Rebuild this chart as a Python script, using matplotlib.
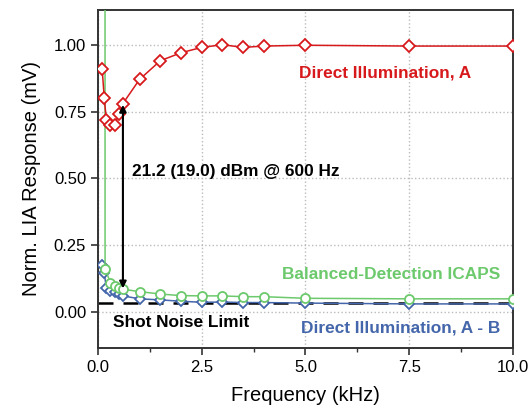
import matplotlib.pyplot as plt

plt.rcParams['font.family'] = ['Liberation Sans', 'DejaVu Sans']

# frequencies (kHz)
freq = [0.1, 0.15, 0.2, 0.3, 0.4, 0.5, 0.6, 1.0, 1.5, 2.0, 2.5, 3.0, 3.5, 4.0, 5.0, 7.5, 10.0]

direct_a = [0.91, 0.80, 0.72, 0.70, 0.70, 0.74, 0.78, 0.87, 0.94, 0.97, 0.99, 1.00,
            0.99, 0.995, 0.998, 0.995, 0.995]
direct_ab = [0.176, 0.146, 0.09, 0.079, 0.074, 0.067, 0.06, 0.049, 0.045, 0.04, 0.036,
             0.037, 0.035, 0.035, 0.033, 0.03, 0.03]

freq_bd = [0.16, 0.17, 0.3, 0.4, 0.5, 0.6, 1.0, 1.5, 2.0, 2.5, 3.0, 3.5, 4.0, 5.0, 7.5, 10.0]
balanced = [9.0, 0.16, 0.11, 0.097, 0.089, 0.085, 0.076, 0.067, 0.061, 0.06, 0.06,
            0.057, 0.057, 0.051, 0.049, 0.049]

shot_noise = 0.035

red = '#d7191c'
green = '#6cc96c'
blue = '#4466aa'

fig = plt.figure(figsize=(5.31, 4.11), dpi=100)
ax = fig.add_axes([0.1846, 0.1533, 0.7814, 0.8224])

ax.axhline(shot_noise, color='black', linestyle=(0, (6, 4)), linewidth=1.8, zorder=2)

ax.plot(freq, direct_ab, color=blue, marker='D', markersize=5, markerfacecolor='white',
        markeredgewidth=1.3, linewidth=1.1, zorder=3)
ax.plot(freq_bd, balanced, color=green, marker='o', markersize=6.5, markerfacecolor='white',
        markeredgewidth=1.3, linewidth=1.1, zorder=4)
ax.plot(freq, direct_a, color=red, marker='D', markersize=6, markerfacecolor='white',
        markeredgewidth=1.3, linewidth=1.1, zorder=5)

# double-headed arrow at 600 Hz
ax.annotate('', xy=(0.6, 0.088), xytext=(0.6, 0.775),
            arrowprops=dict(arrowstyle='<|-|>', color='black', lw=1.5,
                            mutation_scale=10, shrinkA=0, shrinkB=0), zorder=6)

lbl = dict(fontsize=12.4, fontweight='bold', va='center')
ax.text(0.81, 0.525, '21.2 (19.0) dBm @ 600 Hz', ha='left', **lbl)
ax.text(9.0, 0.895, 'Direct Illumination, A', color=red, ha='right', **lbl)
ax.text(9.69, 0.139, 'Balanced-Detection ICAPS', color=green, ha='right', **lbl)
ax.text(9.69, -0.06, 'Direct Illumination, A - B', color=blue, ha='right', **lbl)
ax.text(0.36, -0.041, 'Shot Noise Limit', ha='left', **lbl)

ax.set_xlim(0, 10)
ax.set_ylim(-0.135, 1.13)
ax.set_xticks([0, 2.5, 5.0, 7.5, 10.0])
ax.set_xticklabels(['0.0', '2.5', '5.0', '7.5', '10.0'])
ax.set_xticks([1.25, 3.75, 6.25, 8.75], minor=True)
ax.set_yticks([0, 0.25, 0.5, 0.75, 1.0])
ax.set_yticklabels(['0.00', '0.25', '0.50', '0.75', '1.00'])
ax.tick_params(axis='both', which='major', labelsize=12, direction='out', length=5,
               width=1.2, colors='#333333', labelcolor='black')
ax.tick_params(axis='x', which='minor', direction='out', length=3, width=1.0, colors='#333333')
ax.grid(True, which='major', linestyle=':', color='#bbbbbb', linewidth=1.0)
ax.set_axisbelow(True)

for s in ax.spines.values():
    s.set_linewidth(1.4)
    s.set_color('#333333')

ax.set_xlabel('Frequency (kHz)', fontsize=14.5, labelpad=8)
ax.set_ylabel('Norm. LIA Response (mV)', fontsize=14.5, labelpad=9)

fig.savefig('out.png', dpi=100)
